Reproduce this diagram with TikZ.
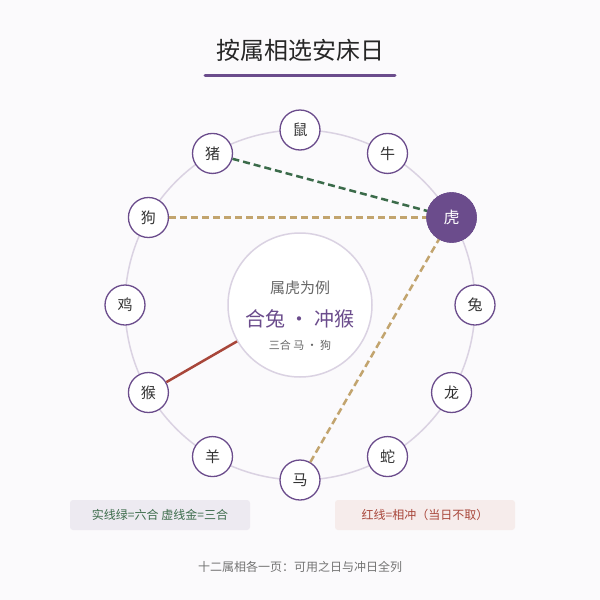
\documentclass[tikz,border=0pt]{standalone}
\usepackage{fontspec}
\setmainfont{Noto Sans CJK SC}
\begin{document}
\begin{tikzpicture}[x=1pt,y=-1pt,
  an/.style={circle,draw=pur,fill=white,line width=1.3pt,minimum size=40pt,inner sep=0pt,font=\fontsize{15}{15}\selectfont,text=black!80},
  hl/.style={circle,fill=pur,draw=pur,minimum size=50pt,inner sep=0pt,font=\fontsize{16}{16}\selectfont,text=white},
  dl/.style={line width=2.5pt,dash pattern=on 7pt off 4pt}]
\definecolor{pur}{HTML}{6B4C8C}
\definecolor{grn}{HTML}{3B6B4A}
\definecolor{gld}{HTML}{C2A46E}
\definecolor{rd}{HTML}{A8463A}
\definecolor{bg}{HTML}{FBFAFC}
\fill[bg] (0,0) rectangle (600,600);
\useasboundingbox (0,0) rectangle (600,600);
\node[font=\fontsize{24}{24}\selectfont,text=black!85] (title) at (300,50) {按属相选安床日};
\draw[pur,line width=3pt,line cap=round] (205,75) -- (395,75);
\draw[pur!25,line width=1.5pt] (300,305) circle (175);
\node[circle,draw=pur!25,line width=1.5pt,fill=white,minimum size=144pt] (c) at (300,305) {};
\node[text=black!60,font=\fontsize{15}{15}\selectfont] (c1) at (300,288) {属虎为例};
\node[text=pur,font=\fontsize{20}{20}\selectfont] (c2) at (300,319) {合兔 · 冲猴};
\node[text=black!60,font=\fontsize{11}{11}\selectfont] (c3) at (300,345) {三合 马 · 狗};
\foreach \n/\t/\a in {zi/鼠/90,niu/牛/60,tu/兔/0,long/龙/-30,she/蛇/-60,ma/马/-90,yang/羊/-120,hou/猴/-150,ji/鸡/180,gou/狗/150,zhu/猪/120}
  \node[an] (\n) at ({300+175*cos(\a)},{305-175*sin(\a)}) {\t};
\coordinate (hup) at ({300+175*cos(30)},{305-175*sin(30)});
\node[hl] (hu) at (hup) {虎};
\draw[grn,dl] (zhu) -- (hu);
\draw[gld,dl] (gou) -- (hu);
\draw[gld,dl] (ma) -- (hu);
\draw[rd,line width=2.5pt] (hou) -- (c);
\node[hl] at (hup) {虎};
\node[fill=pur!12,minimum width=180pt,minimum height=30pt,rounded corners=3pt,text=grn,font=\fontsize{12}{12}\selectfont] (l1) at (160,515) {实线绿=六合 虚线金=三合};
\node[fill=rd!10,minimum width=180pt,minimum height=30pt,rounded corners=3pt,text=rd,font=\fontsize{12}{12}\selectfont] (l2) at (425,515) {红线=相冲（当日不取）};
\node[text=black!55,font=\fontsize{12}{12}\selectfont] (foot) at (300,567) {十二属相各一页：可用之日与冲日全列};
\end{tikzpicture}
\end{document}
